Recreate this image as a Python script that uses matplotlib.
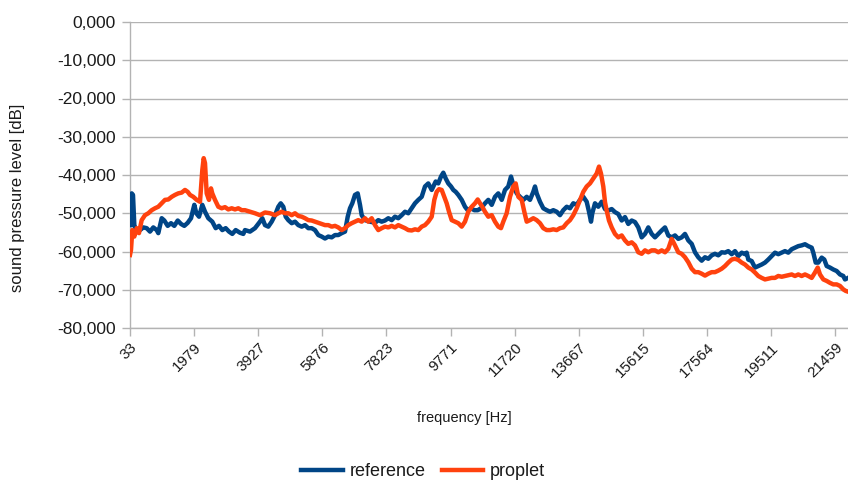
import matplotlib
matplotlib.use("Agg")
import matplotlib.pyplot as plt
from matplotlib.ticker import FuncFormatter

# frequency [Hz] / level [dB]
ref_freq = [
    42, 85, 124, 164, 236, 337, 437, 540, 640, 741, 844, 892, 996, 1075, 1178,
    1278, 1378, 1482, 1582, 1682, 1785, 1886, 1986, 2047, 2129, 2229, 2311, 2411,
    2532, 2636, 2736, 2836, 2939, 3040, 3140, 3243, 3374, 3474,
    3526, 3677, 3829, 3981, 4051, 4133, 4233, 4336, 4437, 4537, 4610, 4689, 4762,
    4841, 4944, 5044, 5144, 5248, 5348, 5448, 5551, 5651, 5752, 5855, 5955, 6055,
    6159, 6259, 6359, 6462, 6563, 6645, 6714, 6784, 6866, 6948, 7018, 7070,
    7170, 7322, 7474, 7574, 7677, 7777, 7878, 7981, 8081, 8181, 8285, 8385, 8485,
    8588, 8688, 8789, 8892, 8992, 9092, 9196, 9244, 9317, 9396, 9478, 9548, 9621,
    9700, 9782, 9852, 9925, 10003, 10107, 10207, 10289, 10389, 10489, 10593, 10693,
    10814, 10915, 11018, 11118, 11218, 11322, 11422, 11522, 11604, 11674, 11777,
    11877, 11978, 12081, 12181, 12281, 12333, 12384, 12485, 12585, 12688, 12788,
    12889, 12992, 13092, 13192, 13296, 13396, 13496, 13599, 13700, 13800, 13903,
    13973, 14034, 14073, 14155, 14255, 14358,
    14459, 14559, 14662, 14762, 14863, 14966, 15066, 15166, 15269, 15370, 15470,
    15573, 15674, 15774, 15877, 15977, 16078, 16181, 16281, 16381, 16484, 16585,
    16685, 16788, 16888, 16989, 17092, 17192, 17292, 17395, 17496, 17596, 17699,
    17799, 17900, 18003,
    18103, 18203, 18307, 18407, 18507, 18610, 18711, 18762, 18811, 18914, 19014,
    19114, 19218, 19318, 19418, 19521, 19622, 19722, 19825, 19925, 20026, 20129,
    20229, 20329, 20432, 20533, 20633, 20736, 20785, 20858, 20937, 21040, 21119,
    21192, 21292, 21392, 21495, 21596, 21696, 21748, 21839,
]
ref_db = [
    -53.1, -44.8, -45.2, -53.1, -54.8, -54.4, -53.7, -53.9, -54.8, -53.7, -54.4,
    -55.2, -51.3, -51.9, -53.3, -52.6, -53.3, -51.9, -52.8, -53.3, -52.5, -51.3,
    -47.8, -50.0, -50.9, -47.8, -49.6, -51.3, -52.2, -53.9, -53.3, -54.4, -53.9,
    -54.8, -55.4, -54.4, -55.1, -55.4,
    -54.4, -54.8, -53.9, -52.2, -51.3, -53.1, -53.5, -52.2, -50.5, -48.3, -47.4,
    -48.3, -50.9, -51.8, -52.6, -52.2, -53.1, -53.5, -53.1, -53.9, -53.9, -54.4,
    -55.7, -56.1, -56.6, -56.1, -56.3, -55.7, -55.7, -55.2, -54.8, -50.9, -48.7,
    -47.4, -45.2, -44.8, -47.8, -50.5,
    -51.8, -52.2, -52.5, -51.8, -52.2, -51.9, -51.3, -51.8, -50.9, -51.3, -50.5,
    -49.6, -50.0, -48.7, -47.4, -46.5, -45.7, -43.0, -42.2, -43.9, -43.0, -41.7,
    -42.2, -40.4, -39.4, -40.9, -42.2, -43.0, -43.9, -44.4, -45.2, -46.5, -48.3,
    -49.2, -48.7, -49.2, -49.2, -48.7,
    -47.4, -46.5, -47.8, -45.7, -44.8, -46.5, -43.9, -43.0, -40.4, -42.6, -44.8,
    -45.7, -46.5, -45.7, -46.5, -44.4, -43.0, -44.8, -47.0, -48.7, -49.2, -49.6,
    -49.2, -49.6, -50.5, -49.2, -48.3, -48.7, -47.4, -47.8, -46.5, -45.7, -47.0,
    -49.6, -52.2, -50.0, -47.4, -48.3, -47.0,
    -48.9, -49.3, -48.9, -49.7, -50.2, -51.9, -51.0, -52.8, -51.9, -52.3, -53.7,
    -56.3, -55.4, -53.7, -55.4, -56.3, -55.4, -54.5, -53.7, -55.8, -56.3, -55.8,
    -56.7, -56.3, -55.4, -57.1, -58.0, -60.2, -61.5, -62.4, -61.5, -61.9, -61.0,
    -60.6, -61.0, -60.2,
    -60.3, -59.9, -60.7, -59.9, -61.2, -60.3, -60.7, -60.3, -62.1, -62.5, -64.2,
    -63.8, -63.4, -62.9, -62.1, -61.2, -60.3, -60.7, -60.3, -59.9, -60.3, -59.4,
    -59.0, -58.6, -58.4, -58.1, -58.6, -59.0, -60.3, -62.9, -62.9, -61.6, -62.1,
    -63.8, -64.2, -64.7, -65.1, -66.0, -66.4, -67.3, -66.9,
]

prop_freq = [
    33, 63, 103, 164, 236, 306, 388, 489, 589, 692, 792, 892, 996, 1096, 1196,
    1300, 1400, 1500, 1603, 1703, 1785, 1855, 1955, 2059, 2159, 2229, 2271, 2311,
    2362, 2432, 2493, 2532, 2614, 2715, 2818, 2918, 3018, 3122, 3222, 3322, 3425,
    3526, 3677, 3829, 3981, 4133, 4285, 4437, 4537, 4640, 4740, 4841, 4944, 5044,
    5144, 5248, 5348, 5448, 5551, 5651, 5752, 5855, 5955, 6055, 6159, 6259, 6359,
    6462, 6563, 6663, 6766, 6866, 6966, 7070,
    7170, 7270, 7373, 7474, 7574, 7677, 7777, 7878, 7981, 8081, 8181, 8285, 8385,
    8485, 8588, 8688, 8789, 8892, 8992, 9092, 9196, 9275, 9347, 9417, 9499, 9578,
    9651, 9721, 9803, 9903, 10003, 10107, 10207, 10307, 10410, 10511, 10593, 10663,
    10732,
    10814, 10915, 11018, 11118, 11218, 11300, 11370, 11473, 11574, 11674, 11747,
    11826, 11929, 12008, 12081, 12181, 12281, 12384, 12485, 12585, 12688, 12788,
    12889, 12992, 13092, 13192, 13296, 13396, 13496, 13599, 13700, 13800, 13903,
    14003, 14103, 14207, 14277, 14337, 14407,
    14459, 14510, 14580, 14662, 14762, 14863, 14966, 15066, 15166, 15269, 15370,
    15470, 15573, 15674, 15774, 15877, 15977, 16078, 16181, 16281, 16381, 16484,
    16585, 16685, 16788, 16888, 16989, 17092, 17192, 17292, 17395, 17496, 17596,
    17699, 17799, 17900, 18003,
    18103, 18203, 18307, 18407, 18507, 18610, 18711, 18811, 18914, 19014, 19114,
    19218, 19318, 19418, 19521, 19622, 19722, 19825, 19925, 20026, 20129, 20229,
    20329, 20432, 20533, 20633, 20736, 20836, 20919, 20988, 21089, 21192, 21292,
    21392, 21495, 21596, 21696, 21769, 21839,
]
prop_db = [
    -60.9, -59.6, -54.4, -56.1, -53.9, -55.2, -51.8, -50.5, -50.0, -49.2, -48.7,
    -48.3, -47.4, -46.5, -46.4, -45.7, -45.2, -44.8, -44.6, -43.9, -44.4, -45.2,
    -45.7, -46.5, -47.0, -38.7, -35.6, -36.9, -44.8, -46.5, -43.5, -44.8, -46.5,
    -48.3, -48.7, -48.4, -49.0, -48.7, -49.0, -48.7, -49.2,
    -49.2, -49.6, -50.0, -50.5, -49.8, -50.0, -50.5, -50.0, -49.6, -50.0, -50.0,
    -50.5, -50.0, -50.7, -50.9, -51.3, -51.8, -51.9, -52.2, -52.5, -52.8, -53.1,
    -53.1, -53.5, -53.3, -53.7, -54.4, -53.9, -53.1, -52.6, -52.2, -51.8, -52.2,
    -51.3, -52.2, -51.3, -53.1, -54.4, -53.9, -53.5, -53.7, -53.3, -53.7, -53.1,
    -53.5, -53.9, -54.4, -54.5, -54.2, -54.4, -53.5, -53.1, -52.2, -50.9, -46.5,
    -44.4, -43.7, -43.9, -45.7, -47.4, -49.6, -51.8, -52.2, -52.6, -53.5, -52.2,
    -49.6, -48.3, -47.4, -46.4, -47.4, -48.3,
    -49.6, -50.9, -50.5, -52.2, -53.5, -53.9, -52.2, -50.0, -45.7, -43.0, -42.2,
    -45.7, -46.5, -49.6, -52.2, -51.8, -51.3, -51.8, -52.6, -53.9, -54.4, -54.4,
    -54.2, -54.4, -53.9, -53.7, -52.6, -51.8, -50.5, -48.7, -46.5, -44.4, -43.0,
    -42.2, -40.9, -39.6, -37.8, -39.6, -43.0,
    -47.1, -49.3, -51.9, -53.7, -55.4, -56.3, -55.8, -57.1, -58.0, -57.6, -58.4,
    -60.2, -60.6, -59.7, -60.2, -59.7, -59.7, -60.2, -59.7, -60.2, -59.3, -56.7,
    -58.4, -60.2, -60.6, -61.5, -62.8, -64.5, -65.4, -65.4, -65.8, -66.3, -65.8,
    -65.4, -65.4, -65.0, -64.5,
    -63.8, -62.9, -62.1, -61.9, -62.2, -62.9, -63.4, -64.2, -64.7, -65.5, -66.4,
    -66.9, -67.3, -67.1, -66.9, -66.9, -66.4, -66.6, -66.4, -66.2, -66.0, -66.4,
    -66.0, -66.4, -66.0, -66.4, -66.9, -65.5, -64.2, -66.0, -67.3, -67.7, -68.2,
    -68.6, -68.6, -69.0, -69.9, -70.3, -70.5,
]

tick_freqs = [33, 1979, 3927, 5876, 7823, 9771, 11720, 13667, 15615, 17564, 19511, 21459]
y_ticks = [0, -10, -20, -30, -40, -50, -60, -70, -80]

plt.rcParams["font.family"] = ["Liberation Sans", "DejaVu Sans"]
txt = "#1a1a1a"

fig = plt.figure(figsize=(8.48, 4.84), dpi=100)
ax = fig.add_axes([130 / 848, 1 - 328 / 484, 1 - 130 / 848, (328 - 22) / 484])

ax.plot(ref_freq, ref_db, color="#004586", lw=3.2, label="reference",
        solid_joinstyle="round", zorder=3)
ax.plot(prop_freq, prop_db, color="#ff420e", lw=3.2, label="proplet",
        solid_joinstyle="round", zorder=3)

ax.set_xlim(33, 21839)
ax.set_ylim(-80, 0)
ax.set_yticks(y_ticks)
ax.yaxis.set_major_formatter(FuncFormatter(lambda v, p: f"{v:.3f}".replace(".", ",")))
ax.set_xticks(tick_freqs)
ax.set_xticklabels([str(t) for t in tick_freqs], rotation=45, ha="right",
                   rotation_mode="anchor", fontsize=11)

ax.grid(axis="y", color="#b3b3b3", lw=1.0)
ax.set_axisbelow(True)
for s in ["top", "right"]:
    ax.spines[s].set_visible(False)
for s in ["left", "bottom"]:
    ax.spines[s].set_color("#b3b3b3")
    ax.spines[s].set_linewidth(1.0)
ax.tick_params(axis="both", colors="#b3b3b3", length=6, width=1.0,
               labelcolor=txt)
ax.tick_params(axis="y", pad=4, labelsize=12.5)
ax.tick_params(axis="x", pad=3)

fig.text(18 / 848, 1 - 198 / 484, "sound pressure level [dB]", rotation=90,
         ha="center", va="center", fontsize=12, color=txt)
fig.text(464 / 848, 1 - 418 / 484, "frequency [Hz]", ha="center", va="center",
         fontsize=10.5, color=txt)

fig.legend(loc="center", bbox_to_anchor=(423 / 848, 1 - 472 / 484), ncol=2,
           frameon=False, fontsize=13, handlelength=2.3, columnspacing=0.9,
           handletextpad=0.35, labelcolor=txt)

fig.savefig("out.png", dpi=100)
